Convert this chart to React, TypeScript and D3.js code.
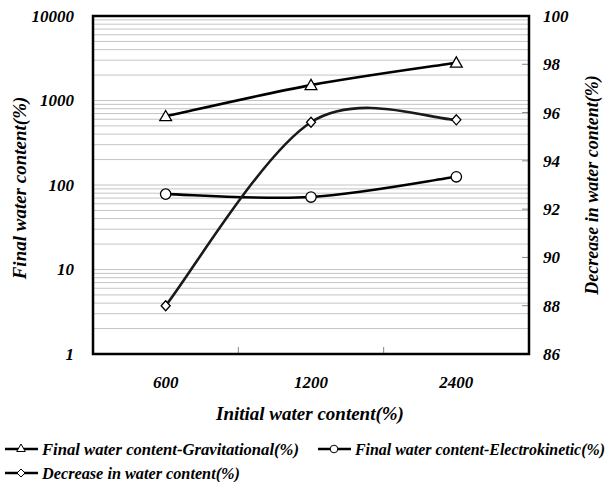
import React from "react";
import * as d3 from "d3";

// Initial water content categories (%)
const categories: string[] = ["600", "1200", "2400"];
// Final water content after gravitational dewatering (%)
const gravitational: number[] = [650, 1520, 2800];
// Final water content after electrokinetic dewatering (%)
const electrokinetic: number[] = [78, 72, 125];
// Decrease in water content (%), right axis
const decrease: number[] = [88.0, 95.6, 95.7];

const leftTicks: number[] = [1, 10, 100, 1000, 10000];
const rightTicks: number[] = [86, 88, 90, 92, 94, 96, 98, 100];

const W = 611;
const H = 482;
const plot = { left: 93, right: 529, top: 16, bottom: 354 };
const FONT = "'Liberation Serif', 'Times New Roman', serif";

// Smoothed spreadsheet-style curve: cubic Bezier segments whose tangents are
// (next - prev) / 6, with the end points standing in for missing neighbours.
function smoothCurve(context: d3.Path | CanvasRenderingContext2D): d3.CurveGenerator {
  let pts: [number, number][] = [];
  return {
    areaStart() {},
    areaEnd() {},
    lineStart() {
      pts = [];
    },
    lineEnd() {
      const n = pts.length;
      if (!n) return;
      context.moveTo(pts[0][0], pts[0][1]);
      for (let i = 0; i < n - 1; i++) {
        const p0 = pts[i - 1] ?? pts[i];
        const p1 = pts[i];
        const p2 = pts[i + 1];
        const p3 = pts[i + 2] ?? pts[i + 1];
        context.bezierCurveTo(
          p1[0] + (p2[0] - p0[0]) / 6,
          p1[1] + (p2[1] - p0[1]) / 6,
          p2[0] - (p3[0] - p1[0]) / 6,
          p2[1] - (p3[1] - p1[1]) / 6,
          p2[0],
          p2[1]
        );
      }
    },
    point(x: number, y: number) {
      pts.push([x, y]);
    },
  } as d3.CurveGenerator;
}

export default function App() {
  const x = d3
    .scaleBand<string>()
    .domain(categories)
    .range([plot.left, plot.right]);
  const cx = (c: string) => (x(c) as number) + x.bandwidth() / 2;

  const yL = d3.scaleLog().domain([1, 10000]).range([plot.bottom, plot.top]);
  const yR = d3.scaleLinear().domain([86, 100]).range([plot.bottom, plot.top]);

  // Minor log gridlines: 1..9 in each decade
  const gridVals: number[] = [];
  for (let d = 0; d < 4; d++) {
    for (let m = 1; m <= 9; m++) gridVals.push(m * Math.pow(10, d));
  }

  const lineL = d3
    .line<number>()
    .x((_, i) => cx(categories[i]))
    .y((v) => yL(v))
    .curve(smoothCurve as any);
  const lineR = d3
    .line<number>()
    .x((_, i) => cx(categories[i]))
    .y((v) => yR(v))
    .curve(smoothCurve as any);

  const tri = d3.symbol(d3.symbolTriangle, 60)();
  const diamond = (px: number, py: number) =>
    `M${px},${py - 5}L${px + 4.5},${py}L${px},${py + 5}L${px - 4.5},${py}Z`;

  const tickFont = { fontFamily: FONT, fontWeight: 700, fontStyle: "italic", fontSize: 17 } as const;

  const legendItems = [
    { label: "Final water content-Gravitational(%)", marker: "tri", x: 5, y: 449, len: 257 },
    { label: "Final water content-Electrokinetic(%)", marker: "circle", x: 318, y: 449, len: 250 },
    { label: "Decrease in water content(%)", marker: "diamond", x: 5, y: 473, len: 198 },
  ];

  const marker = (kind: string, px: number, py: number, key?: string) => {
    if (kind === "tri")
      return (
        <path key={key} d={tri as string} transform={`translate(${px},${py + 1})`} fill="#fff" stroke="#000" strokeWidth={1.3} />
      );
    if (kind === "circle")
      return <circle key={key} cx={px} cy={py} r={5.2} fill="#fff" stroke="#000" strokeWidth={1.3} />;
    return <path key={key} d={diamond(px, py)} fill="#fff" stroke="#000" strokeWidth={1.3} />;
  };

  return (
    <svg width={W} height={H} style={{ position: "absolute", left: 0, top: 0, background: "#fff" }}>
      {/* horizontal gridlines */}
      {gridVals.map((v, i) => (
        <line key={"g" + i} x1={plot.left} x2={plot.right} y1={yL(v)} y2={yL(v)} stroke="#c4c4c4" strokeWidth={1} />
      ))}
      {/* right axis inner ticks */}
      {rightTicks.map((t) => (
        <line key={"rt" + t} x1={plot.right - 7} x2={plot.right} y1={yR(t)} y2={yR(t)} stroke="#888" strokeWidth={1} />
      ))}
      {/* x axis inner ticks at band boundaries */}
      {categories.slice(1).map((c) => (
        <line key={"xt" + c} x1={x(c) as number} x2={x(c) as number} y1={plot.bottom} y2={plot.bottom - 7} stroke="#888" strokeWidth={1} />
      ))}

      {/* series lines */}
      <path d={lineL(gravitational) as string} fill="none" stroke="#000" strokeWidth={2.6} />
      <path d={lineL(electrokinetic) as string} fill="none" stroke="#000" strokeWidth={2.6} />
      <path d={lineR(decrease) as string} fill="none" stroke="#1a1a1a" strokeWidth={2.6} />

      {/* markers */}
      {gravitational.map((v, i) => marker("tri", cx(categories[i]), yL(v), "mt" + i))}
      {electrokinetic.map((v, i) => marker("circle", cx(categories[i]), yL(v), "mc" + i))}
      {decrease.map((v, i) => marker("diamond", cx(categories[i]), yR(v), "md" + i))}

      {/* plot frame */}
      <rect x={plot.left} y={plot.top} width={plot.right - plot.left} height={plot.bottom - plot.top} fill="none" stroke="#000" strokeWidth={2.5} />

      {/* left tick labels */}
      {leftTicks.map((t) => (
        <text key={"lt" + t} x={74} y={yL(t)} dy="0.35em" textAnchor="end" {...tickFont}>
          {t}
        </text>
      ))}
      {/* right tick labels */}
      {rightTicks.map((t) => (
        <text key={"rl" + t} x={543} y={yR(t)} dy="0.35em" textAnchor="start" {...tickFont}>
          {t}
        </text>
      ))}
      {/* x tick labels */}
      {categories.map((c) => (
        <text key={"xl" + c} x={cx(c)} y={382} dy="0.35em" textAnchor="middle" {...tickFont}>
          {c}
        </text>
      ))}

      {/* axis titles */}
      <text x={310} y={413} dy="0.35em" textAnchor="middle" {...tickFont} fontSize={19}>
        Initial water content(%)
      </text>
      <text transform="translate(19,188) rotate(-90)" dy="0.35em" textAnchor="middle" {...tickFont} fontSize={19}>
        Final water content(%)
      </text>
      <text transform="translate(592,185) rotate(-90)" dy="0.35em" textAnchor="middle" {...tickFont} fontSize={18}>
        Decrease in water content(%)
      </text>

      {/* legend */}
      {legendItems.map((it) => (
        <g key={it.label}>
          <line x1={it.x} x2={it.x + 33} y1={it.y} y2={it.y} stroke="#000" strokeWidth={2.5} />
          {it.marker === "tri" && (
            <path d={d3.symbol(d3.symbolTriangle, 32)() as string} transform={`translate(${it.x + 16},${it.y})`} fill="#fff" stroke="#000" strokeWidth={1} />
          )}
          {it.marker === "circle" && <circle cx={it.x + 16} cy={it.y} r={3.8} fill="#fff" stroke="#000" strokeWidth={1} />}
          {it.marker === "diamond" && (
            <path
              d={`M${it.x + 16},${it.y - 4}L${it.x + 20},${it.y}L${it.x + 16},${it.y + 4}L${it.x + 12},${it.y}Z`}
              fill="#fff"
              stroke="#000"
              strokeWidth={1}
            />
          )}
          <text
            x={it.x + 37}
            y={it.y}
            dy="0.35em"
            {...tickFont}
            fontSize={16}
            textLength={it.len}
            lengthAdjust="spacingAndGlyphs"
          >
            {it.label}
          </text>
        </g>
      ))}
    </svg>
  );
}
